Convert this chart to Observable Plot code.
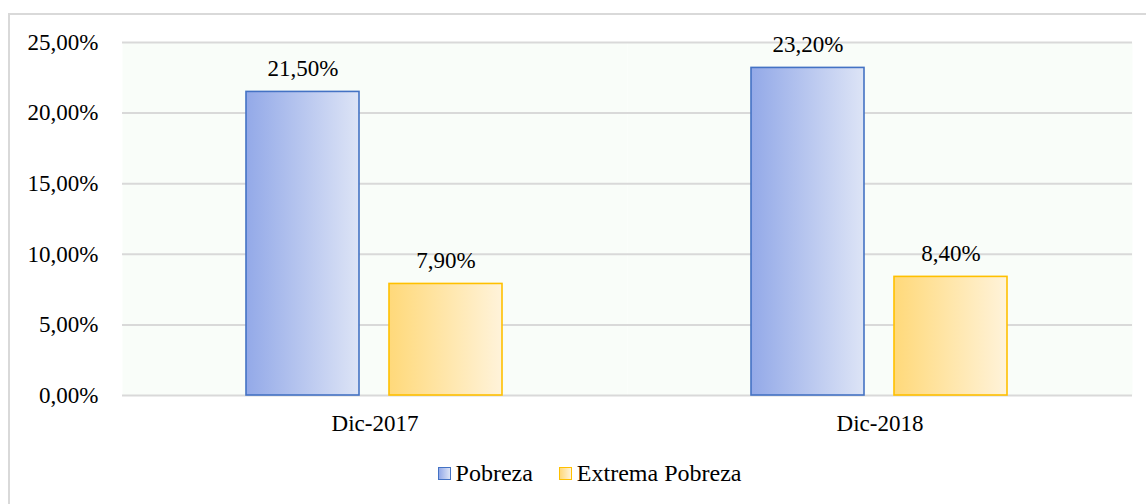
<!DOCTYPE html>
<html>
<head>
<meta charset="utf-8">
<script src="https://cdn.jsdelivr.net/npm/d3@7"></script>
<script src="https://cdn.jsdelivr.net/npm/@observablehq/plot@0.6"></script>
<style>
  html, body { margin: 0; padding: 0; width: 1146px; height: 504px; overflow: hidden; background: #fff; }
  #frame { position: absolute; left: 8px; top: 13px; width: 1300px; height: 700px; border: 2px solid #d9d9d9; box-sizing: border-box; }
  #chart { position: absolute; left: 0; top: 0; }
  #legend { position: absolute; left: 0; top: 460px; width: 1179px; display: flex; justify-content: center; align-items: center;
            font-family: "Liberation Serif", serif; font-size: 24px; color: #000; }
  .item { display: flex; align-items: center; margin: 0 13px; }
  .sw { width: 13px; height: 13px; margin-right: 5px; box-sizing: border-box; }
  #chart text { font-family: "Liberation Serif", serif; }
</style>
</head>
<body>
<div id="frame"></div>
<div id="chart"></div>
<div id="legend"></div>
<script>
const categories = ["Dic-2017", "Dic-2018"];
const series = ["Pobreza", "Extrema Pobreza"];
const pobreza = [21.5, 23.2];
const extremaPobreza = [7.9, 8.4];
const yTicks = [0, 5, 10, 15, 20, 25];

const seriesStyle = {
  "Pobreza": {grad: "gBlue", from: "#93a9e8", to: "#dde4f6", stroke: "#4472c4"},
  "Extrema Pobreza": {grad: "gGold", from: "#ffd97a", to: "#fff3da", stroke: "#ffc000"}
};

const rows = [];
categories.forEach((c, i) => {
  rows.push({cat: c, serie: series[0], value: pobreza[i]});
  rows.push({cat: c, serie: series[1], value: extremaPobreza[i]});
});

const fmt = v => v.toFixed(2).replace(".", ",") + "%";
const FONT = "Liberation Serif, serif";

const chart = Plot.plot({
  width: 1146,
  height: 440,
  marginLeft: 121,
  marginRight: 14,
  marginTop: 42,
  marginBottom: 45,
  style: {fontFamily: FONT, fontSize: "23px", color: "#000", background: "transparent"},
  fx: {domain: categories, padding: 0, label: null},
  x: {domain: series, paddingInner: 0.208, paddingOuter: 0.86, axis: null},
  y: {domain: [0, 25], label: null},
  marks: [
    Plot.frame({fill: "#f9fdf9", stroke: null}),
    Plot.ruleY(yTicks, {stroke: "#d9d9d9", strokeWidth: 2}),
    Plot.axisY(yTicks, {tickFormat: fmt, tickSize: 0, tickPadding: 24, fontSize: 23, fontFamily: FONT, label: null}),
    Plot.axisFx({tickSize: 0, tickPadding: 19, fontSize: 23, fontFamily: FONT, label: null, anchor: "bottom"}),
    ...series.map(s => Plot.barY(rows.filter(r => r.serie === s), {
      x: "serie", y: "value", fx: "cat",
      fill: `url(#${seriesStyle[s].grad})`,
      stroke: seriesStyle[s].stroke, strokeWidth: 1.6
    })),
    Plot.text(rows, {x: "serie", y: "value", fx: "cat", text: d => fmt(d.value), dy: -23, fontSize: 23, fontFamily: FONT, fill: "#000"})
  ]
});

// gradient definitions
const svgNS = "http://www.w3.org/2000/svg";
const defs = document.createElementNS(svgNS, "defs");
for (const s of series) {
  const st = seriesStyle[s];
  const lg = document.createElementNS(svgNS, "linearGradient");
  lg.setAttribute("id", st.grad);
  lg.setAttribute("x1", "0"); lg.setAttribute("y1", "0");
  lg.setAttribute("x2", "1"); lg.setAttribute("y2", "0");
  const s1 = document.createElementNS(svgNS, "stop");
  s1.setAttribute("offset", "0"); s1.setAttribute("stop-color", st.from);
  const s2 = document.createElementNS(svgNS, "stop");
  s2.setAttribute("offset", "1"); s2.setAttribute("stop-color", st.to);
  lg.appendChild(s1); lg.appendChild(s2);
  defs.appendChild(lg);
}
chart.insertBefore(defs, chart.firstChild);
document.getElementById("chart").appendChild(chart);

// legend
const legend = document.getElementById("legend");
for (const s of series) {
  const st = seriesStyle[s];
  const item = document.createElement("div");
  item.className = "item";
  const sw = document.createElement("span");
  sw.className = "sw";
  sw.style.background = `linear-gradient(to right, ${st.from}, ${st.to})`;
  sw.style.border = `1.5px solid ${st.stroke}`;
  const label = document.createElement("span");
  label.textContent = s;
  item.appendChild(sw);
  item.appendChild(label);
  legend.appendChild(item);
}
</script>
</body>
</html>
